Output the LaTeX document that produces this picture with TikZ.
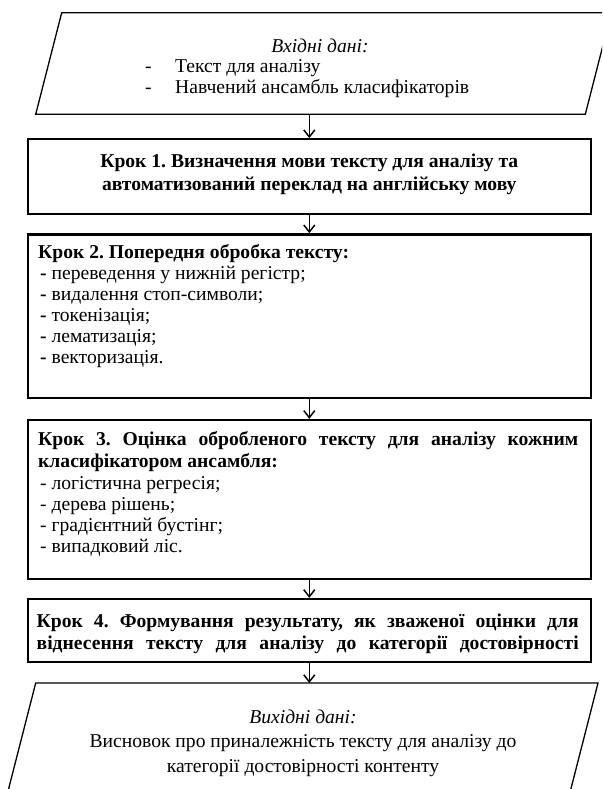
\documentclass[tikz,border=0pt]{standalone}
\usepackage{fontspec}
\setmainfont{Liberation Serif}
\usetikzlibrary{arrows.meta}
\frenchspacing

\tikzset{
  stepbox/.style={draw, line width=2.3pt, minimum width=563pt, inner sep=0pt},
  iobox/.style={line width=1.3pt},
  txt/.style={inner sep=0pt, align=left, font=\fontsize{19.6}{21}\selectfont},
  flow/.style={line width=1.5pt, -{Straight Barb[length=7pt,width=11pt]}}
}

\begin{document}
\begin{tikzpicture}[x=1pt, y=-1pt]
		%%%%% START %%%%%
		\clip (0,0) rectangle (602,789);

		% input data
		\draw[iobox] (61.7,12.7) -- (611.3,12.7) -- (585.3,114.3) -- (35.7,114.3) -- cycle;
		\coordinate (in) at (309.3,114.3);
		\node[txt, anchor=base] (inhead) at (320,53) {\itshape Вхідні дані:};
		\node[txt, anchor=base west] (inlist) at (145,94) {\makebox[30pt][l]{-}Текст для аналізу\\\makebox[30pt][l]{-}Навчений ансамбль класифікаторів};

		% steps
		\node[stepbox, minimum height=75pt] (krok1) at (309.3,176.8) {};
		\node[stepbox, minimum height=163.7pt] (krok2) at (309.3,316.2) {};
		\node[stepbox, minimum height=159pt] (krok3) at (309.3,499.5) {};
		\node[stepbox, minimum height=62.7pt] (krok4) at (309.3,630.4) {};

		\node[txt, anchor=base, align=center, font=\fontsize{19.6}{22.7}\selectfont\bfseries] (krok1txt) at (309.3,190.3) {Крок 1. Визначення мови тексту для аналізу та\\автоматизований переклад на англійську мову};

		\node[txt, anchor=base west] (krok2txt) at (38,363) {\textbf{Крок 2. Попередня обробка тексту:}\\
			\hspace*{2pt}\textbf{-} переведення у нижній регістр;\\
			\hspace*{2pt}\textbf{-} видалення стоп-символи;\\
			\hspace*{2pt}\textbf{-} токенізація;\\
			\hspace*{2pt}\textbf{-} лематизація;\\
			\hspace*{2pt}\textbf{-} векторизація.};

		\node[txt, anchor=base west, font=\fontsize{19.6}{22.7}\selectfont\bfseries] (krok3head) at (38,467.7) {\makebox[540pt][s]{Крок 3. Оцінка обробленого тексту для аналізу кожним}\\класифікатором ансамбля:};
		\node[txt, anchor=base west] (krok3list) at (38,552) {\hspace*{2pt}- логістична регресія;\\
			\hspace*{2pt}- дерева рішень;\\
			\hspace*{2pt}- градієнтний бустінг;\\
			\hspace*{2pt}- випадковий ліс.};

		\node[txt, anchor=base west, font=\fontsize{19.6}{21.5}\selectfont\bfseries] (krok4txt) at (36.5,649) {\makebox[542pt][s]{Крок 4. Формування результату, як зваженої оцінки для}\\\makebox[542pt][s]{віднесення тексту для аналізу до категорії достовірності}};

		% output data
		\draw[iobox] (35.7,683) -- (598,683) -- (570.1,792) -- (7.8,792) -- cycle;
		\coordinate (out) at (309.3,683);
		\node[txt, anchor=base, align=center, font=\fontsize{19.6}{24.5}\selectfont] (outtxt) at (303,772) {\textit{Вихідні дані:}\\Висновок про приналежність тексту для аналізу до\\категорії достовірності контенту};

		% connectors
		\draw[flow] (in) -- (krok1);
		\draw[flow] (krok1) -- (krok2);
		\draw[flow] (krok2) -- (krok3);
		\draw[flow] (krok3) -- (krok4);
		\draw[flow] (krok4) -- (out);
		%%%%% END %%%%%
\end{tikzpicture}
\end{document}
